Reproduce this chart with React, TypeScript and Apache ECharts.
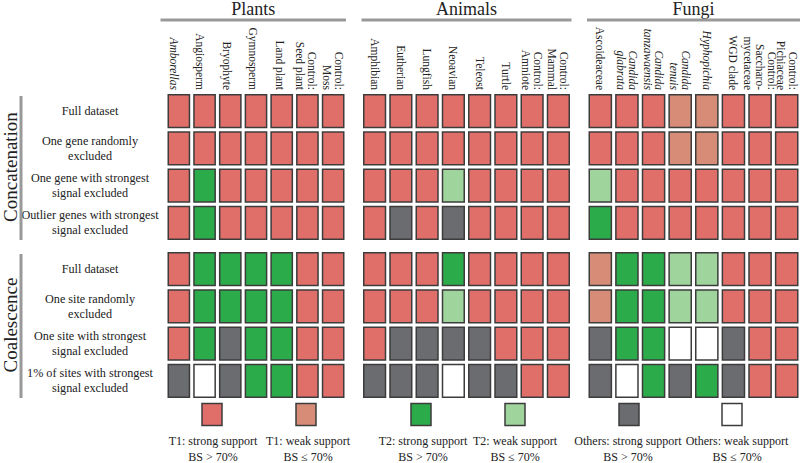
import React, { useEffect, useRef } from "react";
import * as echarts from "echarts";

// ---- data ----
const groups = ["Plants", "Animals", "Fungi"];
const plantCols = ["Amborellas", "Angiosperm", "Bryophyte", "Gymnosperm", "Land plant", "Control:\nSeed plant", "Control:\nMoss"];
const animalCols = ["Amphibian", "Eutherian", "Lungfish", "Neoavian", "Teleost", "Turtle", "Control:\nAmniote", "Control:\nMammal"];
const fungiCols = ["Ascoideaceae", "Candida\nglabrata", "Candida\ntanzawaensis", "Candida\ntenuis", "Hyphopichia", "WGD clade", "Control:\nSaccharo-\nmycetaceae", "Control:\nPichiaceae"];
const italicCols = ["Amborellas", "Candida\nglabrata", "Candida\ntanzawaensis", "Candida\ntenuis", "Hyphopichia"];

const sections = ["Concatenation", "Coalescence"];
const concatRows = ["Full dataset", "One gene randomly\nexcluded", "One gene with strongest\nsignal excluded", "Outlier genes with strongest\nsignal excluded"];
const coalRows = ["Full dataset", "One site randomly\nexcluded", "One site with strongest\nsignal excluded", "1% of sites with strongest\nsignal excluded"];

// codes: 0 T1 strong, 1 T1 weak, 2 T2 strong, 3 T2 weak, 4 Others strong, 5 Others weak
const concatPlants = [
  [0, 0, 0, 0, 0, 0, 0],
  [0, 0, 0, 0, 0, 0, 0],
  [0, 2, 0, 0, 0, 0, 0],
  [0, 2, 0, 0, 0, 0, 0],
];
const concatAnimals = [
  [0, 0, 0, 0, 0, 0, 0, 0],
  [0, 0, 0, 0, 0, 0, 0, 0],
  [0, 0, 0, 3, 0, 0, 0, 0],
  [0, 4, 0, 4, 0, 0, 0, 0],
];
const concatFungi = [
  [0, 0, 0, 1, 1, 0, 0, 0],
  [0, 0, 0, 1, 1, 0, 0, 0],
  [3, 0, 0, 0, 0, 0, 0, 0],
  [2, 0, 0, 0, 0, 0, 0, 0],
];
const coalPlants = [
  [0, 2, 2, 2, 2, 0, 0],
  [0, 2, 2, 2, 2, 0, 0],
  [0, 2, 4, 2, 2, 0, 0],
  [4, 5, 4, 2, 2, 0, 0],
];
const coalAnimals = [
  [0, 0, 0, 2, 0, 0, 0, 0],
  [0, 0, 0, 3, 0, 0, 0, 0],
  [0, 4, 4, 4, 4, 0, 0, 0],
  [4, 4, 4, 5, 4, 4, 0, 0],
];
const coalFungi = [
  [1, 2, 2, 3, 3, 0, 0, 0],
  [1, 2, 2, 3, 3, 0, 0, 0],
  [4, 2, 2, 5, 5, 4, 0, 0],
  [4, 5, 2, 4, 2, 4, 0, 0],
];

const legendLabels = [
  "T1: strong support\nBS > 70%",
  "T1: weak support\nBS ≤ 70%",
  "T2: strong support\nBS > 70%",
  "T2: weak support\nBS ≤ 70%",
  "Others: strong support\nBS > 70%",
  "Others: weak support\nBS ≤ 70%",
];

// ---- styles ----
const COLORS = ["#e06f69", "#d68c76", "#2bab4a", "#9fd49d", "#6b6c6f", "#ffffff"];
const STROKE = "#3c3c3c";
const FONT = "Liberation Serif";
const TEXT = "#222";

const colSets = [plantCols, animalCols, fungiCols];
const rowSets = [concatRows, coalRows];
const matrices = [
  [concatPlants, concatAnimals, concatFungi],
  [coalPlants, coalAnimals, coalFungi],
];

const gridX = [
  { left: 160.5, width: 185.5 },
  { left: 361.5, width: 210 },
  { left: 587, width: 213 },
];
const gridY = [
  { top: 92.5, height: 149 },
  { top: 250.5, height: 149 },
];
const legendX = [212, 306, 421, 515, 629, 732];
const legendTextX = [213, 308, 423, 515, 628, 737];

export default function App() {
  const ref = useRef<HTMLDivElement>(null);
  useEffect(() => {
    if (!ref.current) return;
    const chart = echarts.init(ref.current, null, { renderer: "svg" });
    const grid: any[] = [];
    const xAxis: any[] = [];
    const yAxis: any[] = [];
    const series: any[] = [];
    const graphic: any[] = [];
    let gi = 0;
    for (let s = 0; s < 2; s++) {
      for (let g = 0; g < 3; g++) {
        grid.push({ left: gridX[g].left, width: gridX[g].width, top: gridY[s].top, height: gridY[s].height });
        xAxis.push({
          type: "category",
          gridIndex: gi,
          position: "top",
          data: colSets[g],
          axisLine: { show: false },
          axisTick: { show: false },
          splitLine: { show: false },
          axisLabel: { show: false },
        });
        yAxis.push({
          type: "category",
          gridIndex: gi,
          inverse: true,
          data: rowSets[s],
          axisLine: { show: false },
          axisTick: { show: false },
          splitLine: { show: false },
          name: g === 0 ? sections[s] : "",
          nameLocation: "middle",
          nameRotate: 90,
          nameGap: 146,
          nameTextStyle: { fontSize: 19, fontFamily: FONT, color: TEXT },
          axisLabel: { show: false },
        });
        const data: number[][] = [];
        matrices[s][g].forEach((row, ri) => row.forEach((code, ci) => data.push([ci, ri, code])));
        series.push({
          type: "custom",
          xAxisIndex: gi,
          yAxisIndex: gi,
          data,
          encode: { x: 0, y: 1 },
          renderItem: (params: any, api: any) => {
            const c = api.coord([api.value(0), api.value(1)]);
            const sz = api.size([1, 1]);
            const w = sz[0] - 4.5;
            const h = sz[1] - 4.5;
            return {
              type: "rect",
              shape: { x: c[0] - w / 2, y: c[1] - h / 2, width: w, height: h },
              style: { fill: COLORS[api.value(2)], stroke: STROKE, lineWidth: 1.5 },
            };
          },
        });
        gi++;
      }
    }

    // column labels (rotated, reading top to bottom)
    colSets.forEach((cols, g) => {
      const step = gridX[g].width / cols.length;
      cols.forEach((lab, i) => {
        graphic.push({
          type: "text",
          x: gridX[g].left + step * (i + 0.5),
          y: 90,
          rotation: -Math.PI / 2,
          style: {
            text: lab,
            fontSize: 11.5,
            lineHeight: 11.8,
            fontFamily: FONT,
            fontStyle: italicCols.includes(lab) ? "italic" : "normal",
            fill: TEXT,
            align: "right",
            verticalAlign: "middle",
          },
        });
      });
    });
    // row labels
    rowSets.forEach((rows, s) => {
      const step = gridY[s].height / rows.length;
      rows.forEach((lab, i) => {
        graphic.push({
          type: "text",
          x: 90,
          y: gridY[s].top + step * (i + 0.5),
          style: {
            text: lab,
            fontSize: 12.2,
            lineHeight: 15,
            fontFamily: FONT,
            fill: TEXT,
            align: "center",
            verticalAlign: "middle",
          },
        });
      });
    });

    groups.forEach((name, g) => {
      const cx = gridX[g].left + gridX[g].width / 2;
      graphic.push({
        type: "text",
        x: cx,
        y: 9,
        style: { text: name, fontSize: 18, fontFamily: FONT, fill: TEXT, align: "center", verticalAlign: "middle" },
      });
      graphic.push({
        type: "line",
        shape: { x1: gridX[g].left, y1: 20, x2: gridX[g].left + gridX[g].width, y2: 20 },
        style: { stroke: "#999", lineWidth: 3 },
      });
    });
    gridY.forEach((gy) => {
      graphic.push({
        type: "line",
        shape: { x1: 21, y1: gy.top + 3.5, x2: 21, y2: gy.top + gy.height - 1.5 },
        style: { stroke: "#999", lineWidth: 3 },
      });
    });
    legendLabels.forEach((lab, i) => {
      graphic.push({
        type: "rect",
        shape: { x: legendX[i] - 10, y: 403.5, width: 20, height: 22 },
        style: { fill: COLORS[i], stroke: STROKE, lineWidth: 1.5 },
      });
      graphic.push({
        type: "text",
        x: legendTextX[i],
        y: 449,
        style: { text: lab, fontSize: 12, lineHeight: 16, fontFamily: FONT, fill: TEXT, align: "center", verticalAlign: "middle" },
      });
    });

    chart.setOption({
      animation: false,
      backgroundColor: "#ffffff",
      grid,
      xAxis,
      yAxis,
      series,
      graphic,
    });
    return () => chart.dispose();
  }, []);
  return <div ref={ref} style={{ position: "fixed", left: 0, top: 0, width: 800, height: 463 }} />;
}
